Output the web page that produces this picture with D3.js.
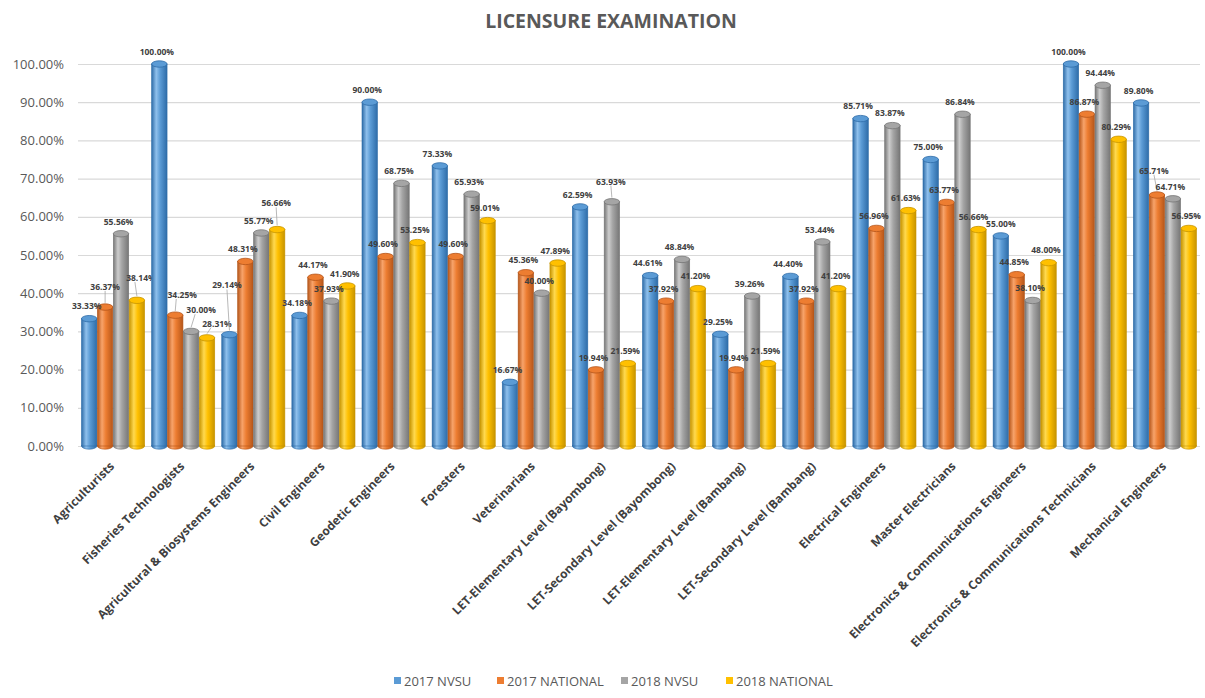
<!DOCTYPE html>
<html><head><meta charset="utf-8">
<script src="https://cdn.jsdelivr.net/npm/d3@7/dist/d3.min.js"></script>
<style>
body{margin:0;background:#fff;}
svg{display:block;font-family:"Open Sans",sans-serif;}
</style></head>
<body><svg id="chart" width="1205" height="698"></svg>
<script>
const categories = ["Agriculturists","Fisheries Technologists","Agricultural & Biosystems Engineers","Civil Engineers","Geodetic Engineers","Foresters","Veterinarians","LET-Elementary Level (Bayombong)","LET-Secondary Level (Bayombong)","LET-Elementary Level (Bambang)","LET-Secondary Level (Bambang)","Electrical Engineers","Master Electricians","Electronics & Communications Engineers","Electronics & Communications Technicians","Mechanical Engineers"];
const seriesNames = ["2017 NVSU","2017 NATIONAL","2018 NVSU","2018 NATIONAL"];
const nvsu2017 = [33.33,100.00,29.14,34.18,90.00,73.33,16.67,62.59,44.61,29.25,44.40,85.71,75.00,55.00,100.00,89.80];
const national2017 = [36.37,34.25,48.31,44.17,49.60,49.60,45.36,19.94,37.92,19.94,37.92,56.96,63.77,44.85,86.87,65.71];
const nvsu2018 = [55.56,30.00,55.77,37.93,68.75,65.93,40.00,63.93,48.84,39.26,53.44,83.87,86.84,38.10,94.44,64.71];
const national2018 = [38.14,28.31,56.66,41.90,53.25,59.01,47.89,21.59,41.20,21.59,41.20,61.63,56.66,48.00,80.29,56.95];
const yTicks = [0,10,20,30,40,50,60,70,80,90,100];
const seriesValues = [nvsu2017, national2017, nvsu2018, national2018];

// layout / style (not data)
const colors = [
  {base:"#5B9BD5", dark:"#2E6CA8", light:"#8FC0EC"},
  {base:"#ED7D31", dark:"#B5561A", light:"#F7A36A"},
  {base:"#A5A5A5", dark:"#767676", light:"#CDCDCD"},
  {base:"#FFC000", dark:"#C79400", light:"#FFD94F"}
];
const labelNudge = {"0,1":[0,-17],"0,3":[4,-19],"1,1":[7,-17],"1,2":[10,-18],"1,3":[10,-11],"2,0":[-2.5,-46],"2,3":[-1,-23],"7,2":[-1,-17],"15,1":[-3,-21]};
const plainNudge = {"12,3":[-5,-9],"13,0":[0,-9]};

const svg = d3.select("#chart");
const margin = {left:78, right:1200, top:64, bottom:446};
const x0 = d3.scaleBand().domain(categories).range([margin.left, margin.right]).paddingInner(0.1).paddingOuter(0.05);
const x1 = d3.scaleBand().domain(d3.range(4)).range([0, x0.bandwidth()]).paddingInner(0.03);
const y = d3.scaleLinear().domain([0,100]).range([margin.bottom, margin.top]);

// gradients
const defs = svg.append("defs");
colors.forEach((c,i)=>{
  const g = defs.append("linearGradient").attr("id","grad"+i).attr("x1","0").attr("x2","1").attr("y1","0").attr("y2","0");
  g.append("stop").attr("offset","0%").attr("stop-color",c.dark);
  g.append("stop").attr("offset","30%").attr("stop-color",c.light);
  g.append("stop").attr("offset","55%").attr("stop-color",c.base);
  g.append("stop").attr("offset","100%").attr("stop-color",c.dark);
});

// title
svg.append("text").attr("x",611).attr("y",28).attr("text-anchor","middle")
  .attr("font-size",19.5).attr("font-weight",700).attr("fill","#595959").text("LICENSURE EXAMINATION");

// y axis + grid
const yAxis = d3.axisLeft(y).tickValues(yTicks).tickFormat(d=>d.toFixed(2)+"%").tickSize(-(margin.right-margin.left)).tickPadding(14);
const ya = svg.append("g").attr("transform",`translate(${margin.left},0)`).call(yAxis);
ya.select(".domain").remove();
ya.selectAll(".tick line").attr("stroke","#D9D9D9").attr("stroke-width",1.2);
ya.selectAll(".tick text").attr("font-size",13).attr("fill","#595959").attr("font-family","'Open Sans',sans-serif");

// bars
const ry = 3.2;
const groups = svg.append("g").selectAll("g").data(categories).join("g")
  .attr("transform",d=>`translate(${x0(d)},0)`);
groups.each(function(cat, gi){
  const g = d3.select(this);
  seriesValues.forEach((vals, si)=>{
    const v = vals[gi];
    const bx = x1(si), bw = x1.bandwidth();
    const top = y(v), bot = y(0);
    const c = colors[si];
    g.append("ellipse").attr("cx",bx+bw/2).attr("cy",bot).attr("rx",bw/2).attr("ry",ry)
      .attr("fill","url(#grad"+si+")").attr("stroke",c.dark).attr("stroke-width",0.6);
    g.append("rect").attr("x",bx).attr("y",top).attr("width",bw).attr("height",bot-top)
      .attr("fill","url(#grad"+si+")").attr("stroke",c.dark).attr("stroke-width",0.6);
    g.append("ellipse").attr("cx",bx+bw/2).attr("cy",top).attr("rx",bw/2).attr("ry",ry)
      .attr("fill",c.base).attr("stroke",c.dark).attr("stroke-width",0.8);
  });
});

// labels
groups.each(function(cat, gi){
  const g = d3.select(this);
  seriesValues.forEach((vals, si)=>{
    const v = vals[gi];
    const cx = x1(si) + x1.bandwidth()/2;
    const top = y(v) - ry;
    const key = gi+","+si;
    const nd = labelNudge[key] || plainNudge[key] || [-2.5,-9];
    const lx = cx + nd[0], ly = top + nd[1];
    if (labelNudge[key]) {
      g.append("line").attr("x1",cx).attr("y1",top-1).attr("x2",lx + (nd[0]>3?-6:0)).attr("y2",ly+4)
        .attr("stroke","#A6A6A6").attr("stroke-width",0.8);
    }
    g.append("text").attr("x",lx).attr("y",ly).attr("text-anchor","middle").attr("dy","0.35em")
      .attr("font-size",8.5).attr("font-weight",700).attr("fill","#404040")
      .text(v.toFixed(2)+"%");
  });
});

// x labels
svg.append("g").selectAll("text").data(categories).join("text")
  .attr("transform",d=>`translate(${x0(d)+x0.bandwidth()/2+2},467) rotate(-45)`)
  .attr("text-anchor","end").attr("font-size",12).attr("font-weight",700).attr("fill","#404040")
  .text(d=>d);

// legend
const legendX = [394, 497, 621, 726];
const lg = svg.append("g").selectAll("g").data(seriesNames).join("g")
  .attr("transform",(d,i)=>`translate(${legendX[i]},681)`);
lg.append("rect").attr("x",0).attr("y",-4).attr("width",7).attr("height",7).attr("fill",(d,i)=>colors[i].base);
lg.append("text").attr("x",10).attr("y",0).attr("dy","0.35em").attr("font-size",13)
  .attr("font-family","'Liberation Sans Narrow','Open Sans',sans-serif").attr("fill","#595959").text(d=>d);
</script></body></html>
